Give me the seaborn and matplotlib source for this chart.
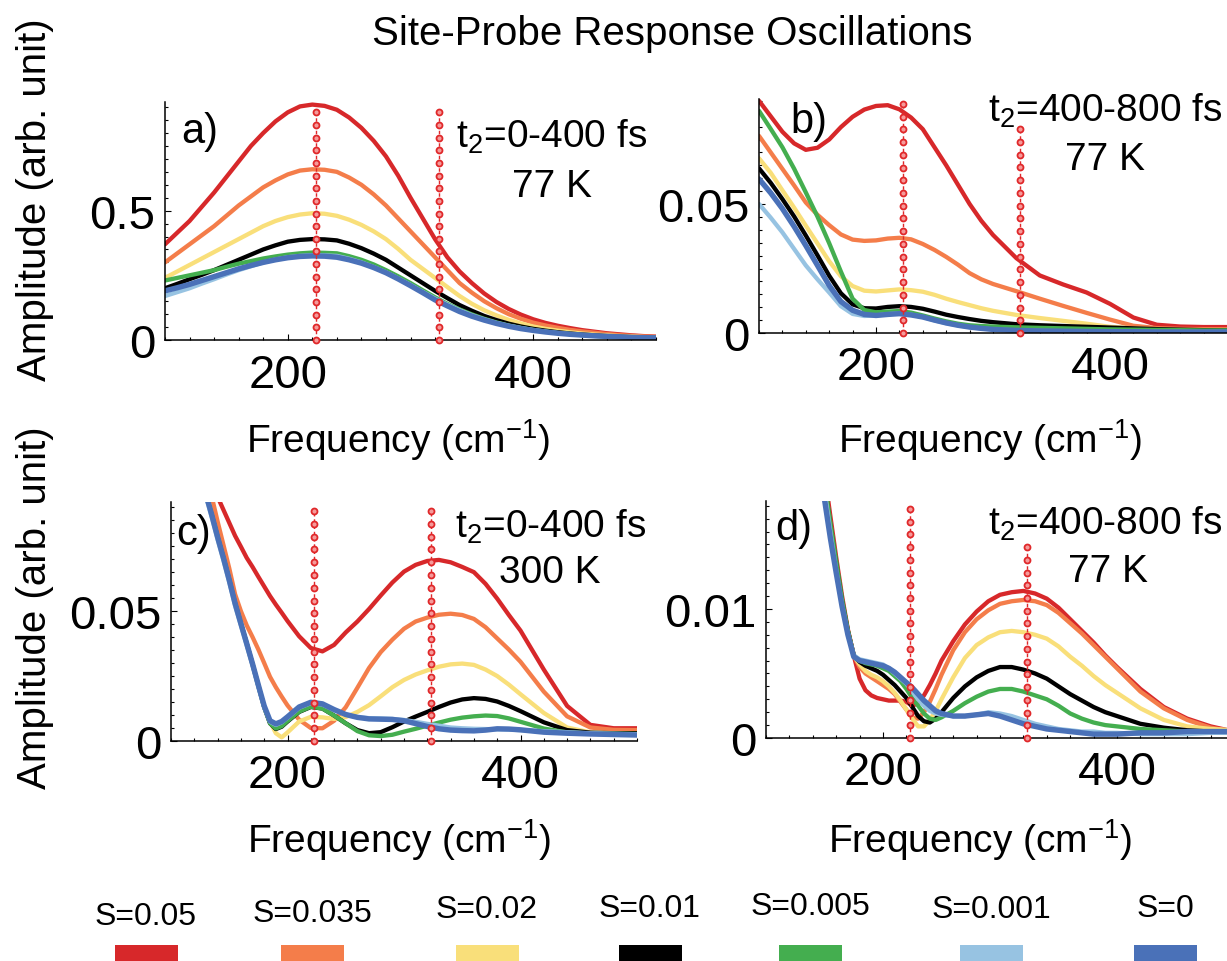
import numpy as np
import pandas as pd
import matplotlib
matplotlib.use("Agg")
import matplotlib.pyplot as plt
import seaborn as sns
from matplotlib.ticker import FixedLocator, MultipleLocator
from matplotlib.patches import Rectangle

# ---------------- data ----------------
labels = ["S=0.05", "S=0.035", "S=0.02", "S=0.01", "S=0.005", "S=0.001", "S=0"]
colors = ["#d7282a", "#f47d4a", "#f9df7a", "#000000", "#44ae4f", "#97c3e2", "#4a71b8"]

# panel a) t2=0-400 fs, 77 K
x_a = [100, 110, 120, 130, 140, 150, 160, 170, 180, 190, 200, 210, 220, 230, 240, 250, 260, 270, 280, 290, 300,
       310, 320, 330, 340, 350, 360, 370, 380, 390, 400, 410, 420, 430, 440, 450, 460, 470, 480, 490, 500]
red_a = [0.37, 0.415, 0.46, 0.515, 0.57, 0.63, 0.69, 0.75, 0.80, 0.845, 0.88, 0.903, 0.91, 0.905, 0.89, 0.86, 0.82, 0.77, 0.71, 0.635, 0.55,
         0.47, 0.39, 0.32, 0.265, 0.22, 0.18, 0.147, 0.12, 0.098, 0.08, 0.066, 0.055, 0.046, 0.038, 0.032, 0.026, 0.022, 0.018, 0.015, 0.013]
orange_a = [0.30, 0.335, 0.37, 0.405, 0.44, 0.48, 0.52, 0.555, 0.59, 0.617, 0.64, 0.655, 0.66, 0.658, 0.65, 0.628, 0.60, 0.563, 0.52, 0.47, 0.42,
            0.37, 0.32, 0.27, 0.22, 0.183, 0.15, 0.123, 0.10, 0.082, 0.067, 0.056, 0.047, 0.039, 0.033, 0.028, 0.023, 0.019, 0.016, 0.014, 0.012]
yellow_a = [0.24, 0.265, 0.29, 0.315, 0.34, 0.365, 0.39, 0.415, 0.44, 0.46, 0.475, 0.485, 0.49, 0.488, 0.48, 0.465, 0.445, 0.42, 0.39, 0.352, 0.31,
            0.275, 0.24, 0.205, 0.17, 0.14, 0.115, 0.095, 0.078, 0.064, 0.052, 0.043, 0.036, 0.03, 0.025, 0.021, 0.018, 0.015, 0.013, 0.011, 0.01]
black_a = [0.20, 0.217, 0.235, 0.252, 0.27, 0.29, 0.31, 0.33, 0.35, 0.366, 0.38, 0.387, 0.39, 0.389, 0.385, 0.372, 0.355, 0.334, 0.31, 0.28, 0.25,
           0.22, 0.19, 0.162, 0.135, 0.113, 0.093, 0.077, 0.063, 0.052, 0.043, 0.036, 0.03, 0.025, 0.021, 0.018, 0.015, 0.013, 0.011, 0.01, 0.009]
green_a = [0.23, 0.24, 0.25, 0.26, 0.27, 0.283, 0.295, 0.305, 0.315, 0.323, 0.33, 0.335, 0.338, 0.337, 0.335, 0.324, 0.31, 0.292, 0.27, 0.246, 0.22,
           0.192, 0.165, 0.14, 0.118, 0.099, 0.082, 0.068, 0.056, 0.047, 0.039, 0.033, 0.027, 0.023, 0.019, 0.016, 0.014, 0.012, 0.01, 0.009, 0.008]
lblue_a = [0.17, 0.185, 0.20, 0.218, 0.235, 0.253, 0.27, 0.285, 0.30, 0.311, 0.32, 0.325, 0.328, 0.327, 0.325, 0.314, 0.30, 0.282, 0.262, 0.238, 0.213,
           0.186, 0.16, 0.137, 0.115, 0.096, 0.08, 0.066, 0.055, 0.046, 0.038, 0.032, 0.027, 0.023, 0.019, 0.016, 0.014, 0.012, 0.01, 0.009, 0.008]
blue_a = [0.19, 0.202, 0.215, 0.23, 0.245, 0.26, 0.275, 0.288, 0.30, 0.31, 0.318, 0.323, 0.325, 0.324, 0.32, 0.31, 0.297, 0.28, 0.26, 0.236, 0.21,
          0.183, 0.155, 0.132, 0.11, 0.092, 0.077, 0.064, 0.053, 0.044, 0.037, 0.031, 0.026, 0.022, 0.019, 0.016, 0.014, 0.012, 0.01, 0.009, 0.008]

# panel b) t2=400-800 fs, 77 K
x_b = [100, 110, 120, 130, 140, 150, 160, 170, 180, 190, 200, 210, 220, 230, 240, 250, 260, 270, 280, 290, 300,
       320, 340, 360, 380, 400, 420, 440, 460, 480, 500]
red_b = [0.090, 0.084, 0.078, 0.0735, 0.071, 0.0718, 0.075, 0.0798, 0.0838, 0.0866, 0.0880, 0.0883, 0.0867, 0.0835, 0.079, 0.072, 0.065, 0.0575, 0.050, 0.0435, 0.038,
         0.029, 0.0223, 0.0188, 0.0157, 0.0113, 0.006, 0.0032, 0.0025, 0.0023, 0.0023]
orange_b = [0.0764, 0.070, 0.0636, 0.0572, 0.0506, 0.0458, 0.0418, 0.0382, 0.0362, 0.0357, 0.0359, 0.0366, 0.0369, 0.0363, 0.0345, 0.0322, 0.0295, 0.0265, 0.0232, 0.0208, 0.019,
            0.0162, 0.0133, 0.0105, 0.0078, 0.0052, 0.0028, 0.0019, 0.0016, 0.0015, 0.0015]
yellow_b = [0.0677, 0.0621, 0.0553, 0.0486, 0.0416, 0.0347, 0.0278, 0.022, 0.0182, 0.0164, 0.0161, 0.0165, 0.0169, 0.0166, 0.016, 0.0148, 0.0133, 0.012, 0.0108, 0.0096, 0.0086,
            0.007, 0.0058, 0.0047, 0.0036, 0.0024, 0.0018, 0.0014, 0.0012, 0.001, 0.001]
black_b = [0.0638, 0.0582, 0.0519, 0.0452, 0.0378, 0.0301, 0.0222, 0.0154, 0.0111, 0.0096, 0.0095, 0.0101, 0.0104, 0.0101, 0.0094, 0.0083, 0.0071, 0.0062, 0.0054, 0.0047, 0.0042,
           0.0034, 0.003, 0.0027, 0.0024, 0.0021, 0.0018, 0.0015, 0.0013, 0.0011, 0.001]
green_b = [0.0861, 0.0791, 0.072, 0.0637, 0.0545, 0.0451, 0.0348, 0.0238, 0.0133, 0.0089, 0.008, 0.0083, 0.0085, 0.0079, 0.0068, 0.0056, 0.0045, 0.0036, 0.003, 0.0027, 0.0025,
           0.0022, 0.002, 0.0018, 0.0016, 0.0014, 0.0013, 0.0012, 0.0011, 0.001, 0.001]
lblue_b = [0.05, 0.0447, 0.039, 0.0326, 0.0262, 0.0208, 0.0157, 0.0104, 0.0074, 0.0066, 0.0068, 0.0073, 0.0076, 0.0071, 0.0062, 0.0049, 0.0038, 0.003, 0.0023, 0.0018, 0.0014,
           0.001, 0.0008, 0.0007, 0.0006, 0.0005, 0.0004, 0.0004, 0.0004, 0.0004, 0.0004]
blue_b = [0.0597, 0.0543, 0.0482, 0.0413, 0.0339, 0.0262, 0.0184, 0.0122, 0.0088, 0.0072, 0.0068, 0.0072, 0.0075, 0.007, 0.0062, 0.005, 0.0039, 0.003, 0.0023, 0.0018, 0.0014,
          0.001, 0.0008, 0.0007, 0.0006, 0.0005, 0.0005, 0.0004, 0.0004, 0.0004, 0.0004]

# panel c) t2=0-400 fs, 300 K
x_c = [130, 135, 140, 145, 150, 155, 160, 165, 170, 175, 180, 185, 190, 195, 200,
       210, 220, 230, 240, 250, 260, 270, 280, 290, 300, 310, 320, 330, 340, 350, 360, 370, 380, 390, 400,
       420, 440, 460, 480, 500]
red_c = [0.106, 0.1, 0.094, 0.089, 0.084, 0.079, 0.0748, 0.0705, 0.067, 0.0632, 0.0595, 0.0558, 0.0525, 0.0494, 0.0462,
         0.0403, 0.0358, 0.0345, 0.037, 0.0418, 0.046, 0.0508, 0.056, 0.061, 0.0652, 0.0678, 0.0693, 0.0697, 0.0688, 0.067, 0.065, 0.0605, 0.0548, 0.0485, 0.0425,
         0.0275, 0.0135, 0.0062, 0.0049, 0.0049]
orange_c = [0.103, 0.094, 0.0845, 0.0755, 0.0665, 0.0565, 0.050, 0.0445, 0.040, 0.0352, 0.030, 0.0247, 0.0207, 0.0171, 0.0137,
            0.0082, 0.005, 0.0049, 0.0078, 0.013, 0.0205, 0.0281, 0.0342, 0.039, 0.0432, 0.046, 0.0475, 0.0486, 0.049, 0.0485, 0.047, 0.0438, 0.0395, 0.0352, 0.0305,
            0.019, 0.0095, 0.0052, 0.0043, 0.0042]
yellow_c = [0.095, 0.087, 0.0785, 0.0705, 0.062, 0.053, 0.0452, 0.0375, 0.0297, 0.0215, 0.0132, 0.0075, 0.003, 0.0014, 0.0033,
            0.0075, 0.0093, 0.0091, 0.0085, 0.0092, 0.0112, 0.0138, 0.0172, 0.0207, 0.0235, 0.0256, 0.0272, 0.0286, 0.0295, 0.0298, 0.0293, 0.0275, 0.025, 0.0217, 0.018,
            0.0108, 0.0052, 0.0033, 0.003, 0.003]
black_c = [0.095, 0.087, 0.0785, 0.0705, 0.062, 0.053, 0.0452, 0.0375, 0.0295, 0.0212, 0.013, 0.0068, 0.0046, 0.0055, 0.0075,
           0.0112, 0.0131, 0.0125, 0.0098, 0.0068, 0.0042, 0.003, 0.0034, 0.0053, 0.0075, 0.0094, 0.0112, 0.0131, 0.0148, 0.016, 0.0165, 0.0162, 0.0152, 0.0135, 0.0115,
           0.0072, 0.0042, 0.0032, 0.003, 0.003]
green_c = [0.095, 0.087, 0.0785, 0.0705, 0.062, 0.053, 0.0452, 0.0375, 0.0295, 0.0212, 0.013, 0.0068, 0.0048, 0.0057, 0.0077,
           0.0113, 0.0132, 0.0125, 0.0098, 0.0068, 0.0038, 0.0022, 0.0019, 0.0024, 0.0036, 0.0047, 0.0059, 0.0071, 0.0082, 0.009, 0.0095, 0.0098, 0.0096, 0.0087, 0.0074,
           0.0048, 0.0033, 0.0029, 0.0028, 0.0027]
lblue_c = [0.094, 0.086, 0.0775, 0.0695, 0.061, 0.052, 0.0444, 0.0367, 0.029, 0.0208, 0.013, 0.0074, 0.0062, 0.0072, 0.009,
           0.0128, 0.0146, 0.014, 0.0119, 0.0101, 0.0092, 0.0088, 0.0087, 0.0085, 0.0081, 0.0074, 0.0066, 0.0059, 0.0052, 0.0049, 0.0047, 0.0046, 0.0045, 0.0044, 0.0042,
           0.0038, 0.0034, 0.003, 0.0028, 0.0026]
blue_c = [0.095, 0.087, 0.0785, 0.0705, 0.062, 0.053, 0.0452, 0.0375, 0.0297, 0.0215, 0.0135, 0.0078, 0.0066, 0.0075, 0.0093,
          0.0131, 0.0149, 0.0143, 0.0121, 0.0102, 0.0091, 0.0085, 0.0084, 0.0083, 0.0078, 0.0067, 0.0056, 0.0047, 0.0042, 0.004, 0.0039, 0.0042, 0.0047, 0.0046, 0.0043,
          0.0034, 0.003, 0.0027, 0.0025, 0.0023]

# panel d) t2=400-800 fs, 77 K
x_d = [140, 145, 150, 155, 160, 165, 170, 175, 180, 185, 190, 195, 200, 205, 210, 215, 220, 225, 230, 235, 240, 245, 250,
       260, 270, 280, 290, 300, 310, 320, 330, 340, 350, 360, 370, 380, 390, 400,
       420, 440, 460, 480, 500]
red_d = [0.027, 0.0235, 0.0205, 0.0172, 0.014, 0.011, 0.0084, 0.0064,
         0.0046, 0.0037, 0.0033, 0.0031, 0.003, 0.0029, 0.0029, 0.0029, 0.0028, 0.0025, 0.0027, 0.0033, 0.0041, 0.005, 0.006,
         0.0075, 0.0088, 0.0098, 0.0106, 0.0111, 0.0113, 0.0114, 0.0112, 0.0108, 0.0101, 0.0092, 0.0083, 0.0074, 0.0064, 0.0055,
         0.0038, 0.0024, 0.0015, 0.0009, 0.0005]
orange_d = [0.027, 0.0232, 0.0198, 0.0166, 0.0136, 0.0107, 0.0083, 0.0064,
            0.0055, 0.005, 0.0047, 0.0044, 0.0041, 0.0038, 0.0034, 0.0028, 0.0022, 0.0016, 0.0015, 0.002, 0.0028, 0.0038, 0.0049,
            0.0068, 0.0082, 0.0092, 0.0099, 0.0104, 0.0106, 0.0107, 0.0106, 0.0103, 0.0097, 0.0089, 0.0081, 0.0072, 0.0063, 0.0054,
            0.0036, 0.0023, 0.0014, 0.0008, 0.0005]
yellow_d = [0.027, 0.0232, 0.0198, 0.0166, 0.0136, 0.0107, 0.0083, 0.0064,
            0.0057, 0.0052, 0.0049, 0.0047, 0.0044, 0.004, 0.0035, 0.0029, 0.0022, 0.0015, 0.0009, 0.0009, 0.0014, 0.0021, 0.003,
            0.0047, 0.0062, 0.0072, 0.0078, 0.0082, 0.0083, 0.0082, 0.008, 0.0077, 0.0071, 0.0063, 0.0056, 0.0048, 0.0041, 0.0035,
            0.0023, 0.0014, 0.0009, 0.0007, 0.0006]
black_d = [0.027, 0.0232, 0.0198, 0.0166, 0.0136, 0.0107, 0.0083, 0.0064,
           0.0059, 0.0056, 0.0054, 0.0052, 0.0049, 0.0045, 0.0041, 0.0036, 0.0031, 0.0024, 0.0017, 0.0013, 0.0012, 0.0015, 0.002,
           0.0031, 0.004, 0.0047, 0.0052, 0.0055, 0.0055, 0.0053, 0.005, 0.0046, 0.004, 0.0034, 0.0029, 0.0024, 0.002, 0.0017,
           0.0011, 0.0008, 0.0006, 0.0005, 0.0005]
green_d = [0.027, 0.0232, 0.0198, 0.0166, 0.0136, 0.0107, 0.0083, 0.0064,
           0.006, 0.0058, 0.0057, 0.0056, 0.0054, 0.0052, 0.0048, 0.0044, 0.0038, 0.0031, 0.0025, 0.0019, 0.0015, 0.0014, 0.0016,
           0.0021, 0.0027, 0.0032, 0.0036, 0.0038, 0.0038, 0.0036, 0.0033, 0.003, 0.0025, 0.0019, 0.0015, 0.0012, 0.001, 0.0009,
           0.0007, 0.0006, 0.0005, 0.0005, 0.0005]
lblue_d = [0.0265, 0.023, 0.0192, 0.016, 0.013, 0.0103, 0.0081, 0.0064,
           0.0061, 0.006, 0.0059, 0.0058, 0.0057, 0.0054, 0.005, 0.0046, 0.0042, 0.0036, 0.003, 0.0025, 0.0021, 0.0019, 0.0018,
           0.0017, 0.0017, 0.0018, 0.002, 0.0019, 0.0017, 0.0014, 0.0011, 0.0009, 0.0007, 0.0006, 0.0005, 0.0005, 0.0004, 0.0004,
           0.0003, 0.0003, 0.0003, 0.0004, 0.0004]
blue_d = [0.0265, 0.023, 0.0185, 0.0155, 0.0128, 0.0102, 0.008, 0.0063,
          0.006, 0.0059, 0.0058, 0.0057, 0.0056, 0.0054, 0.0051, 0.0047, 0.0043, 0.0039, 0.0034, 0.0029, 0.0025, 0.0021, 0.0019,
          0.0017, 0.0017, 0.0018, 0.0019, 0.0017, 0.0014, 0.0011, 0.0009, 0.0007, 0.0006, 0.0005, 0.0004, 0.0003, 0.0003, 0.0003,
          0.0004, 0.0004, 0.0005, 0.0005, 0.0005]

# marked frequencies (dotted red lines)
marked_freqs = [223, 323]

# ---------------- style ----------------
sns.set_theme(style="white")
plt.rcParams["font.family"] = ["Liberation Sans", "DejaVu Sans"]
plt.rcParams["mathtext.fontset"] = "custom"
plt.rcParams["mathtext.rm"] = "Liberation Sans"
plt.rcParams["mathtext.it"] = "Liberation Sans:italic"
for k in ("text.color", "axes.labelcolor", "xtick.color", "ytick.color", "axes.edgecolor"):
    plt.rcParams[k] = "black"

W, H = 1227, 962
RED = "#e0282a"
TICK_FS = 34
fig = plt.figure(figsize=(W / 100, H / 100), dpi=100)
fig.patch.set_facecolor("white")


def add_axes_px(l, t, r, b):
    return fig.add_axes([l / W, 1 - b / H, (r - l) / W, (b - t) / H])


def fxy(px, py):
    return px / W, 1 - py / H


def panel(box, x, series, xmax, ytop, ymajor, ylabels, yminor, vtops):
    ax = add_axes_px(*box)
    rows = []
    for lab, vals in zip(labels, series):
        rows.append(pd.DataFrame({"freq": x, "amp": vals, "S": lab}))
    df = pd.concat(rows, ignore_index=True)
    sns.lineplot(data=df, x="freq", y="amp", hue="S", hue_order=labels,
                 palette=dict(zip(labels, colors)), estimator=None,
                 linewidth=3.1, legend=False, ax=ax)
    for ln, lab in zip(ax.lines, labels):
        ln.set_solid_capstyle("round")
        ln.set_solid_joinstyle("round")
        if lab == "S=0":
            ln.set_linewidth(3.9)
    ax.set_xlim(100, xmax)
    ax.set_ylim(0, ytop)
    ax.set_xlabel("")
    ax.set_ylabel("")
    sns.despine(ax=ax)
    for s in ("left", "bottom"):
        ax.spines[s].set_linewidth(1.1)
        ax.spines[s].set_color("black")
    ax.xaxis.set_major_locator(FixedLocator([200, 400]))
    ax.xaxis.set_minor_locator(MultipleLocator(20))
    ax.yaxis.set_major_locator(FixedLocator(ymajor))
    ax.set_yticklabels(ylabels)
    ax.yaxis.set_minor_locator(MultipleLocator(yminor))
    ax.tick_params(axis="both", which="both", direction="in", bottom=True, left=True,
                   top=False, right=False, colors="black", width=0.8)
    ax.tick_params(axis="both", which="major", length=4.5, labelsize=TICK_FS)
    ax.tick_params(axis="both", which="minor", length=2.2)
    ax.tick_params(axis="x", which="major", pad=9)
    ax.tick_params(axis="y", which="major", pad=7)
    # dotted marker lines
    for xv, top in zip(marked_freqs, vtops):
        y0 = ax.transData.transform((xv, 0))[1]
        y1 = ax.transData.transform((xv, top))[1]
        n = int(round((y1 - y0) / 12.7)) + 1
        ax.plot([xv, xv], [0, top], color=RED, lw=1.0, ls=(0, (2.5, 2)), zorder=6, clip_on=False)
        ax.plot(np.full(n, xv), np.linspace(0, top, n), ls="none", marker="o", ms=4.3,
                mfc="#f59a9a", mec=RED, mew=1.3, zorder=7, clip_on=False)
    return ax


box_a = (165, 103, 656, 341)
box_b = (759, 100, 1227, 334)
box_c = (171, 503, 637, 742)
box_d = (766, 502, 1227, 739)

ax_a = panel(box_a, x_a, [red_a, orange_a, yellow_a, black_a, green_a, lblue_a, blue_a],
             500, 0.92, [0, 0.5], ["0", "0.5"], 0.05, [0.88, 0.88])
ax_b = panel(box_b, x_b, [red_b, orange_b, yellow_b, black_b, green_b, lblue_b, blue_b],
             500, 0.0907, [0, 0.05], ["0", "0.05"], 0.005, [0.0888, 0.079])
ax_c = panel(box_c, x_c, [red_c, orange_c, yellow_c, black_c, green_c, lblue_c, blue_c],
             500, 0.092, [0, 0.05], ["0", "0.05"], 0.005, [0.0885, 0.0885])
ax_d = panel(box_d, x_d, [red_d, orange_d, yellow_d, black_d, green_d, lblue_d, blue_d],
             494, 0.01837, [0, 0.01], ["0", "0.01"], 0.001, [0.01775, 0.0148])

# axis labels
XLAB = "Frequency (cm$\\mathregular{^{-1}}$)"
for ax, box, cx, base in [(ax_a, box_a, 398, 453), (ax_b, box_b, 990, 453),
                          (ax_c, box_c, 399, 853), (ax_d, box_d, 980, 853)]:
    l, t, r, b = box
    lab = ax.set_xlabel(XLAB, fontsize=28)
    lab.set_va("baseline")
    ax.xaxis.set_label_coords((cx - l) / (r - l), -(base - b) / (b - t))

for ax, box, cy in [(ax_a, box_a, 200), (ax_c, box_c, 608)]:
    l, t, r, b = box
    lab = ax.set_ylabel("Amplitude (arb. unit)", fontsize=29)
    lab.set_va("center")
    lab.set_ha("center")
    ax.yaxis.set_label_coords((35 - l) / (r - l), (b - cy) / (b - t))

# title
fig.text(*fxy(672, 45), "Site-Probe Response Oscillations", fontsize=29, ha="center", va="baseline")

# panel annotations
ANN = 28
fig.text(*fxy(181, 143), "a)", fontsize=30, va="baseline")
fig.text(*fxy(456, 148), "t$\\mathregular{_2}$=0-400 fs", fontsize=ANN, va="baseline")
fig.text(*fxy(552, 197), "77 K", fontsize=ANN, ha="center", va="baseline")

fig.text(*fxy(790, 133), "b)", fontsize=30, va="baseline")
fig.text(*fxy(988, 122), "t$\\mathregular{_2}$=400-800 fs", fontsize=ANN, va="baseline")
fig.text(*fxy(1105, 170), "77 K", fontsize=ANN, ha="center", va="baseline")

fig.text(*fxy(176, 545), "c)", fontsize=30, va="baseline")
fig.text(*fxy(455, 538), "t$\\mathregular{_2}$=0-400 fs", fontsize=ANN, va="baseline")
fig.text(*fxy(550, 583), "300 K", fontsize=ANN, ha="center", va="baseline")

fig.text(*fxy(775, 540), "d)", fontsize=30, va="baseline")
fig.text(*fxy(988, 535), "t$\\mathregular{_2}$=400-800 fs", fontsize=ANN, va="baseline")
fig.text(*fxy(1108, 582), "77 K", fontsize=ANN, ha="center", va="baseline")

# legend strip
lax = fig.add_axes([0, 0, 1, 110 / H])
lax.set_xlim(0, W)
lax.set_ylim(H, H - 110)
lax.axis("off")
leg_x = [146, 312, 487, 650, 810, 991, 1165]
leg_base = [925, 922, 918, 917, 915, 918, 917]
for lab, col, cx, by in zip(labels, colors, leg_x, leg_base):
    lax.text(cx, by, lab, fontsize=23, ha="center", va="baseline")
    lax.add_patch(Rectangle((cx - 31.5, 946), 63, 20, facecolor=col, edgecolor="none", clip_on=False))

fig.savefig("out.png", dpi=100, facecolor="white")
